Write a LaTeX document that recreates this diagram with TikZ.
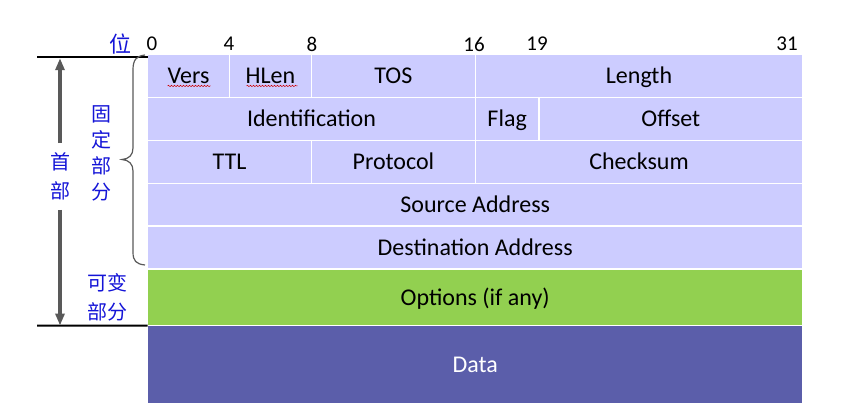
\documentclass[tikz,border=0pt]{standalone}
\usepackage{fontspec}
\setmainfont{Carlito}
\newfontfamily\cjk{Noto Sans CJK SC}
\usepackage{tikz}
\usetikzlibrary{arrows.meta, positioning, decorations.pathmorphing}

\definecolor{fieldblue}{RGB}{204,204,255}
\definecolor{optgreen}{RGB}{146,208,80}
\definecolor{datapurple}{RGB}{91,94,170}
\definecolor{cnblue}{RGB}{20,20,215}
\definecolor{markgray}{RGB}{89,89,89}

\begin{document}
\begin{tikzpicture}[x=1pt, y=-1pt,
	cell/.style={draw=white, line width=1.4pt, fill=fieldblue, inner sep=0pt, outer sep=0pt,
		minimum height=42.9pt, anchor=north west, text height=15.5pt, text depth=0pt,
		font=\fontsize{24}{24}\selectfont},
	bitno/.style={font=\fontsize{21}{21}\selectfont, inner sep=0pt},
	cnlabel/.style={text=cnblue, align=center, inner sep=0pt, font=\cjk\fontsize{20}{29}\selectfont},
	rule/.style={line width=2pt, black},
	span/.style={line width=3.4pt, markgray, -{Triangle[length=12pt, width=9pt]}},
	squiggle/.style={red!80!black, line width=0.5pt, decorate,
		decoration={snake, amplitude=0.7pt, segment length=3pt}}]

\useasboundingbox (0,0) rectangle (858,407);

% bit numbers
\node [cnlabel, font=\cjk\fontsize{22}{22}\selectfont] (wei) at (120,44) {位};
\node [bitno] (b0)  at (152,44) {0};
\node [bitno] (b4)  at (229,44) {4};
\node [bitno] (b8)  at (312,44) {8};
\node [bitno] (b16) at (474,44) {16};
\node [bitno] (b19) at (537,44) {19};
\node [bitno] (b31) at (787,44) {31};

% first row
\node [cell, minimum width=81.8pt] (vers) at (147.7,54.5) {Vers};
\node [cell, minimum width=82pt,    right=0pt of vers] (hlen)   {HLen};
\node [cell, minimum width=163.8pt, right=0pt of hlen] (tos)    {TOS};
\node [cell, minimum width=327.4pt, right=0pt of tos]  (length) {Length};

\draw [squiggle] ([xshift=-21pt, yshift=-10pt]vers.center) -- ([xshift=22pt, yshift=-10pt]vers.center);
\draw [squiggle] ([xshift=-24pt, yshift=-10pt]hlen.center) -- ([xshift=27pt, yshift=-10pt]hlen.center);

% second row
\node [cell, minimum width=327.6pt] (ident) at (vers.south west) {Identification};
\node [cell, minimum width=63.7pt,  right=0pt of ident] (flag)   {Flag};
\node [cell, minimum width=263.7pt, right=0pt of flag]  (offset) {Offset};

% third row
\node [cell, minimum width=163.8pt] (ttl) at (ident.south west) {TTL};
\node [cell, minimum width=163.8pt, right=0pt of ttl]   (proto) {Protocol};
\node [cell, minimum width=327.4pt, right=0pt of proto] (csum)  {Checksum};

% addresses
\node [cell, minimum width=655pt] (src) at (ttl.south west) {Source Address};
\node [cell, minimum width=655pt] (dst) at (src.south west) {Destination Address};

% options and data
\node [cell, minimum width=655pt, minimum height=56.5pt, fill=optgreen] (opts) at (dst.south west) {Options (if any)};
\node [cell, minimum width=655pt, minimum height=78.5pt, fill=datapurple, text=white] (data) at (opts.south west) {Data};

% left side labels
\node [cnlabel, font=\cjk\fontsize{20}{26}\selectfont] (fixed) at (101,153) {固\\定\\部\\分};
\node [cnlabel] (shoubu) at (60,176) {首\\部};
\node [cnlabel] (kebian) at (107,297.5) {可变\\部分};

\coordinate (ltop) at (37,56.7);
\coordinate (lbot) at (37,325.5);

\draw [rule] (ltop) -- (ltop -| vers.west);
\draw [rule] (lbot) -- (data.north west);

\draw [span] ([yshift=9pt]shoubu.north) -- ([yshift=-1.5pt]shoubu.north |- ltop);
\draw [span] ([yshift=-10pt]shoubu.south) -- (shoubu.south |- lbot);

% brace round the fixed part
\draw [markgray, line width=1.2pt] (145,55) .. controls (136,56) and (133,60) .. (133,70)
	-- (133,148) .. controls (133,155) and (129,159) .. (122,159.5)
	.. controls (129,160) and (133,164) .. (133,171)
	-- (133,252) .. controls (133,261) and (136,264) .. (145,265);

\end{tikzpicture}
\end{document}
